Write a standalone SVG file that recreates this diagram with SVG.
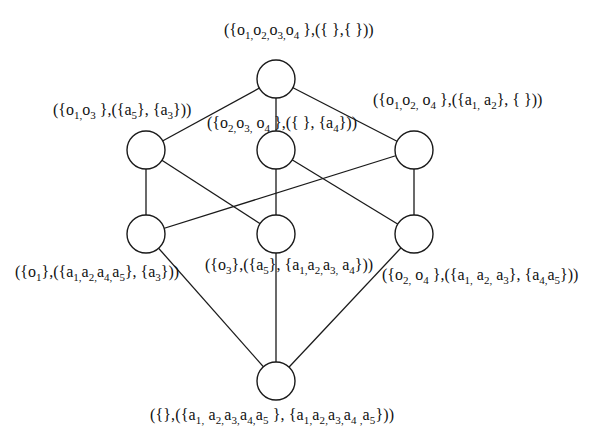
<svg xmlns="http://www.w3.org/2000/svg" width="589" height="445" viewBox="0 0 589 445">
<style>
.e{stroke:#1a1a1a;stroke-width:1.3;fill:none}
.n{stroke:#1a1a1a;stroke-width:1.4;fill:#fff}
text{font-family:"Liberation Serif","Times New Roman",serif;font-size:16px;fill:#111;white-space:pre}
.s{font-size:11px}
</style>
<rect width="589" height="445" fill="#fff"/>
<g id="connectors">
<line class="e" x1="276" y1="79" x2="146" y2="150"/>
<line class="e" x1="276" y1="79" x2="276" y2="150"/>
<line class="e" x1="276" y1="79" x2="414" y2="150"/>
<line class="e" x1="146" y1="150" x2="146" y2="234"/>
<line class="e" x1="146" y1="150" x2="276" y2="234"/>
<line class="e" x1="276" y1="150" x2="276" y2="234"/>
<line class="e" x1="276" y1="150" x2="414" y2="234"/>
<line class="e" x1="414" y1="150" x2="414" y2="234"/>
<line class="e" x1="414" y1="150" x2="146" y2="234"/>
<line class="e" x1="146" y1="234" x2="276" y2="381"/>
<line class="e" x1="276" y1="234" x2="276" y2="381"/>
<line class="e" x1="414" y1="234" x2="276" y2="381"/>
</g>
<g id="n1"><circle class="n" cx="276" cy="79" r="19"/>
<text x="224" y="35">({o<tspan class="s" dy="4">1,</tspan><tspan dy="-4">o</tspan><tspan class="s" dy="4">2,</tspan><tspan dy="-4">o</tspan><tspan class="s" dy="4">3,</tspan><tspan dy="-4">o</tspan><tspan class="s" dy="4">4</tspan><tspan dy="-4"> },({ },{ }))</tspan></text></g>
<g id="n2"><circle class="n" cx="146" cy="150" r="19"/>
<text x="53" y="115">({o<tspan class="s" dy="4">1,</tspan><tspan dy="-4">o</tspan><tspan class="s" dy="4">3</tspan><tspan dy="-4"> },({a</tspan><tspan class="s" dy="4">5</tspan><tspan dy="-4">}, {a</tspan><tspan class="s" dy="4">3</tspan><tspan dy="-4">}))</tspan></text></g>
<g id="n3"><circle class="n" cx="276" cy="150" r="19"/>
<text x="207" y="128">({o<tspan class="s" dy="4">2,</tspan><tspan dy="-4">o</tspan><tspan class="s" dy="4">3,</tspan><tspan dy="-4"> o</tspan><tspan class="s" dy="4">4</tspan><tspan dy="-4"> },({ }, {a</tspan><tspan class="s" dy="4">4</tspan><tspan dy="-4">}))</tspan></text></g>
<g id="n4"><circle class="n" cx="414" cy="150" r="19"/>
<text x="373" y="105">({o<tspan class="s" dy="4">1,</tspan><tspan dy="-4">o</tspan><tspan class="s" dy="4">2,</tspan><tspan dy="-4"> o</tspan><tspan class="s" dy="4">4</tspan><tspan dy="-4"> },({a</tspan><tspan class="s" dy="4">1,</tspan><tspan dy="-4"> a</tspan><tspan class="s" dy="4">2</tspan><tspan dy="-4">}, { }))</tspan></text></g>
<g id="n5"><circle class="n" cx="146" cy="234" r="19"/>
<text x="15" y="277">({o<tspan class="s" dy="4">1</tspan><tspan dy="-4">},({a</tspan><tspan class="s" dy="4">1,</tspan><tspan dy="-4">a</tspan><tspan class="s" dy="4">2,</tspan><tspan dy="-4">a</tspan><tspan class="s" dy="4">4,</tspan><tspan dy="-4">a</tspan><tspan class="s" dy="4">5</tspan><tspan dy="-4">}, {a</tspan><tspan class="s" dy="4">3</tspan><tspan dy="-4">}))</tspan></text></g>
<g id="n6"><circle class="n" cx="276" cy="234" r="19"/>
<text x="205" y="270">({o<tspan class="s" dy="4">3</tspan><tspan dy="-4">},({a</tspan><tspan class="s" dy="4">5</tspan><tspan dy="-4">}, {a</tspan><tspan class="s" dy="4">1,</tspan><tspan dy="-4">a</tspan><tspan class="s" dy="4">2,</tspan><tspan dy="-4">a</tspan><tspan class="s" dy="4">3,</tspan><tspan dy="-4"> a</tspan><tspan class="s" dy="4">4</tspan><tspan dy="-4">}))</tspan></text></g>
<g id="n7"><circle class="n" cx="414" cy="234" r="19"/>
<text x="382" y="280">({o<tspan class="s" dy="4">2,</tspan><tspan dy="-4"> o</tspan><tspan class="s" dy="4">4</tspan><tspan dy="-4"> },({a</tspan><tspan class="s" dy="4">1,</tspan><tspan dy="-4"> a</tspan><tspan class="s" dy="4">2,</tspan><tspan dy="-4"> a</tspan><tspan class="s" dy="4">3</tspan><tspan dy="-4">}, {a</tspan><tspan class="s" dy="4">4,</tspan><tspan dy="-4">a</tspan><tspan class="s" dy="4">5</tspan><tspan dy="-4">}))</tspan></text></g>
<g id="n8"><circle class="n" cx="276" cy="381" r="19"/>
<text x="150" y="420" textLength="244" lengthAdjust="spacing">({},({a<tspan class="s" dy="4">1,</tspan><tspan dy="-4"> a</tspan><tspan class="s" dy="4">2,</tspan><tspan dy="-4">a</tspan><tspan class="s" dy="4">3,</tspan><tspan dy="-4">a</tspan><tspan class="s" dy="4">4,</tspan><tspan dy="-4">a</tspan><tspan class="s" dy="4">5</tspan><tspan dy="-4"> }, {a</tspan><tspan class="s" dy="4">1,</tspan><tspan dy="-4">a</tspan><tspan class="s" dy="4">2,</tspan><tspan dy="-4">a</tspan><tspan class="s" dy="4">3,</tspan><tspan dy="-4">a</tspan><tspan class="s" dy="4">4 ,</tspan><tspan dy="-4">a</tspan><tspan class="s" dy="4">5</tspan><tspan dy="-4">}))</tspan></text></g>
</svg>
